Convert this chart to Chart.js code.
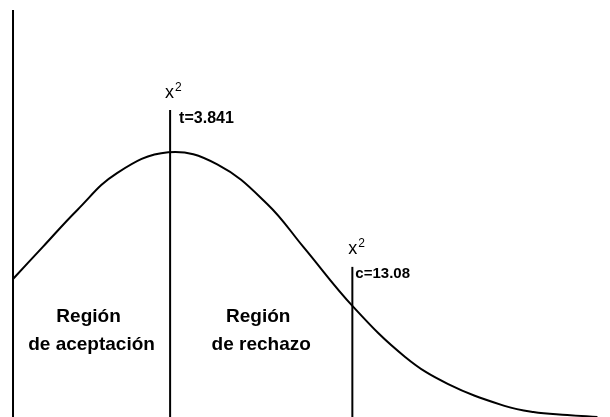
<!DOCTYPE html>
<html><head><meta charset="utf-8">
<script src="https://cdn.jsdelivr.net/npm/chart.js@4/dist/chart.umd.min.js"></script>
<style>html,body{margin:0;padding:0;background:#fff;overflow:hidden}</style>
</head><body>
<canvas id="c" width="610" height="417"></canvas>
<script>
// Curve (chi-square shaped density)
const curveX = [0, 0.95, 2.04, 3.31, 4.94, 6.50, 8.09, 9.24, 10.83, 12.48, 13.85, 15.67, 16.56, 17.64, 18.6];
const curveY = [3.31, 4.08, 4.96, 5.85, 6.35, 6.06, 5.11, 4.08, 2.64, 1.44, 0.79, 0.26, 0.12, 0.05, 0];
// vertical lines: position and height
const axisX = 0, axisTop = 9.76;
const tX = 5, tTop = 7.36;
const cX = 10.8, cTop = 3.6;
const criticalLabels = ['t=3.841', 'c=13.08'];
const symbolLabel = 'x';
const symbolSup = '2';
const regionLabels = [['Región', 'de aceptación'], ['Región', 'de rechazo']];

const curve = curveX.map((x, i) => ({x, y: curveY[i]}));
const vline = (x, top) => [{x, y: 0}, {x, y: top}];

const labelsPlugin = {
  id: 'labels',
  afterDatasetsDraw(chart) {
    const {ctx, scales: {x: xs, y: ys}} = chart;
    ctx.save();
    ctx.fillStyle = '#000';
    ctx.textBaseline = 'alphabetic';
    const drawSym = (px, base) => {
      ctx.font = '18px "Liberation Sans", Arial, sans-serif';
      ctx.textAlign = 'left';
      ctx.fillText(symbolLabel, px, base);
      const w = ctx.measureText(symbolLabel).width;
      ctx.font = '12px "Liberation Sans", Arial, sans-serif';
      ctx.fillText(symbolSup, px + w + 1, base - 7);
    };
    // t critical
    let px = xs.getPixelForValue(tX), top = ys.getPixelForValue(tTop);
    drawSym(px - 5, top - 12);
    ctx.font = 'bold 16px "Liberation Sans", Arial, sans-serif';
    ctx.fillText(criticalLabels[0], px + 9, top + 13);
    // c critical
    px = xs.getPixelForValue(cX); top = ys.getPixelForValue(cTop);
    drawSym(px - 4, top - 13);
    ctx.font = 'bold 15px "Liberation Sans", Arial, sans-serif';
    ctx.fillText(criticalLabels[1], px + 3, top + 11);
    // regions
    ctx.font = 'bold 19px "Liberation Sans", Arial, sans-serif';
    ctx.textAlign = 'center';
    const centers = [(axisX + tX) / 2, (tX + cX) / 2];
    centers.forEach((cx, i) => {
      const p = xs.getPixelForValue(cx);
      ctx.fillText(regionLabels[i][0], p - 3, ys.getPixelForValue(2.28));
      ctx.fillText(regionLabels[i][1], p, ys.getPixelForValue(1.61));
    });
    ctx.restore();
  }
};

const lineStyle = {showLine: true, borderColor: '#000', borderWidth: 2, pointRadius: 0, fill: false};

new Chart(document.getElementById('c'), {
  type: 'scatter',
  data: {
    datasets: [
      {...lineStyle, data: curve, tension: 0.4},
      {...lineStyle, data: vline(axisX, axisTop)},
      {...lineStyle, data: vline(tX, tTop)},
      {...lineStyle, data: vline(cX, cTop)}
    ]
  },
  options: {
    responsive: false,
    animation: false,
    devicePixelRatio: 1,
    layout: {padding: 0},
    plugins: {legend: {display: false}, tooltip: {enabled: false}, title: {display: false}},
    scales: {
      x: {type: 'linear', min: -0.414, max: 19.0, display: false},
      y: {type: 'linear', min: 0, max: 10, display: false}
    }
  },
  plugins: [labelsPlugin]
});
</script>
</body></html>
